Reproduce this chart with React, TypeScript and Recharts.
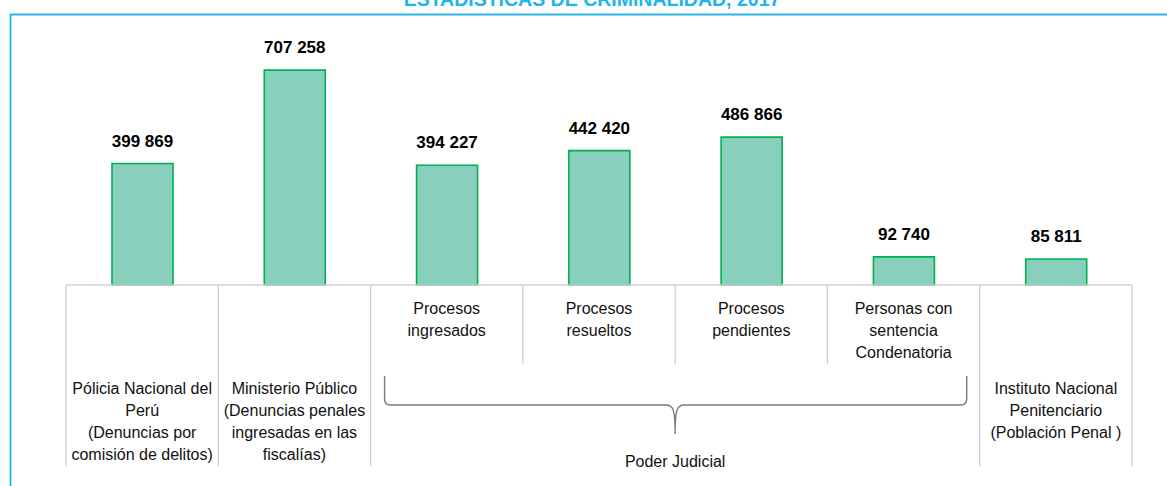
import React from "react";
import { BarChart, Bar, XAxis, YAxis, LabelList } from "recharts";

const title = "ESTADÍSTICAS DE CRIMINALIDAD, 2017";

const categories = [
  "Pólicia Nacional del\nPerú\n(Denuncias por\ncomisión de delitos)",
  "Ministerio Público\n(Denuncias penales\ningresadas en las\nfiscalías)",
  "Procesos\ningresados",
  "Procesos\nresueltos",
  "Procesos\npendientes",
  "Personas con\nsentencia\nCondenatoria",
  "Instituto Nacional\nPenitenciario\n(Población Penal )",
];

const groups = ["", "", "Poder Judicial", "Poder Judicial", "Poder Judicial", "Poder Judicial", ""];

const values = [399869, 707258, 394227, 442420, 486866, 92740, 85811];

const data = categories.map((c, i) => ({ name: c, value: values[i], group: groups[i] }));

const FONT = "'Liberation Sans', Arial, Helvetica, sans-serif";
const SEP = "#CBCBD0";

const fmt = (v: any) => String(v).replace(/\B(?=(\d{3})+(?!\d))/g, " ");

const CategoryTick = (props: any) => {
  const { x, y, payload, width, visibleTicksCount } = props;
  const i: number = payload.index;
  const n = visibleTicksCount || categories.length;
  const half = payload.offset && payload.offset > 0 ? payload.offset : (width || 1066) / n / 2;
  const g = groups[i];
  const lines = String(payload.value).split("\n");
  const fullLen = 181;
  const shortLen = 79;
  const leftFull = !g || i === 0 || groups[i - 1] !== g;
  const isLast = i === categories.length - 1;
  const startY = g ? y + 28.5 : y + 108.5;

  let bracket: React.ReactNode = null;
  if (g && (i === 0 || groups[i - 1] !== g)) {
    let count = 0;
    while (i + count < groups.length && groups[i + count] === g) count++;
    const gl = x - half;
    const gr = gl + count * 2 * half;
    const L = gl + 14;
    const R = gr - 13;
    const mid = (gl + gr) / 2;
    const top = y + 91;
    const hy = y + 120;
    const py = y + 149;
    const r = 6;
    const d = [
      `M ${L} ${top}`,
      `L ${L} ${hy - r}`,
      `Q ${L} ${hy} ${L + r} ${hy}`,
      `L ${mid - 9} ${hy}`,
      `C ${mid - 2} ${hy} ${mid} ${hy + 4} ${mid} ${py}`,
      `M ${mid} ${py}`,
      `C ${mid} ${hy + 4} ${mid + 2} ${hy} ${mid + 9} ${hy}`,
      `L ${R - r} ${hy}`,
      `Q ${R} ${hy} ${R} ${hy - r}`,
      `L ${R} ${top}`,
    ].join(" ");
    bracket = (
      <g>
        <path d={d} fill="none" stroke="#7A7A7A" strokeWidth={1.4} />
        <text x={mid} y={y + 182} textAnchor="middle" fontFamily={FONT} fontSize={16} fill="#111">
          {g}
        </text>
      </g>
    );
  }

  return (
    <g>
      <line x1={x - half} x2={x - half} y1={y} y2={y + (leftFull ? fullLen : shortLen)} stroke={SEP} strokeWidth={1.2} />
      {isLast && (
        <line x1={x + half} x2={x + half} y1={y} y2={y + fullLen} stroke={SEP} strokeWidth={1.2} />
      )}
      <text x={x} y={startY} textAnchor="middle" fontFamily={FONT} fontSize={16} fill="#111">
        {lines.map((ln, k) => (
          <tspan key={k} x={x} y={startY + k * 22}>
            {ln}
          </tspan>
        ))}
      </text>
      {bracket}
    </g>
  );
};

export default function App() {
  return (
    <div style={{ position: "absolute", left: 0, top: 0, width: 1167, height: 486, background: "#fff", overflow: "hidden" }}>
      <svg width={1167} height={486} style={{ position: "absolute", left: 0, top: 0 }}>
        <text x={592} y={6} textAnchor="middle" fontFamily={FONT} fontWeight="bold" fontSize={19.5} fill="#1EB4EC">
          {title}
        </text>
        <line x1={10} x2={1167} y1={14.5} y2={14.5} stroke="#2DB5E8" strokeWidth={2} />
        <line x1={10.5} x2={10.5} y1={14} y2={486} stroke="#00B0F0" strokeWidth={1.6} />
      </svg>
      <div style={{ position: "absolute", left: 0, top: 0 }}>
        <BarChart width={1167} height={486} data={data} margin={{ top: 42, right: 35, bottom: 0, left: 66 }}>
          <YAxis hide domain={[0, 800000]} />
          <XAxis
            dataKey="name"
            interval={0}
            height={201}
            tickLine={false}
            tickSize={0}
            tickMargin={0}
            axisLine={{ stroke: "#D2D2D6", strokeWidth: 1.5 }}
            tick={<CategoryTick />}
          />
          <Bar dataKey="value" barSize={61} fill="#89CFBE" stroke="#00B050" strokeWidth={1.6} isAnimationActive={false}>
            <LabelList
              dataKey="value"
              position="top"
              offset={17}
              formatter={fmt}
              style={{ fontFamily: FONT, fontWeight: "bold", fontSize: 17, fill: "#000" }}
            />
          </Bar>
        </BarChart>
      </div>
    </div>
  );
}
